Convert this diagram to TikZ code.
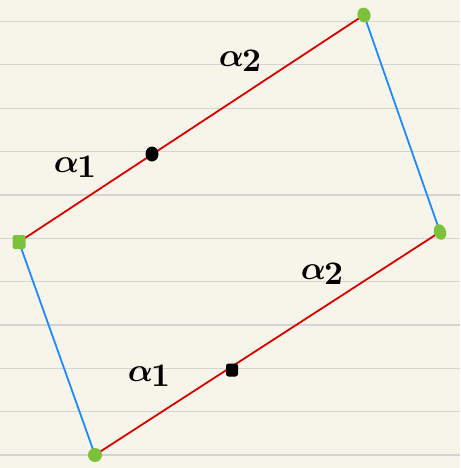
\documentclass[tikz,border=0pt]{standalone}
\usetikzlibrary{shapes.geometric}
\definecolor{paper}{HTML}{F7F5EA}
\definecolor{rule}{HTML}{D4D4D0}
\definecolor{redl}{HTML}{D90000}
\definecolor{bluel}{HTML}{1A8CFF}
\definecolor{greend}{HTML}{7CC13A}
\newcommand{\alab}[1]{\scalebox{3.3}{\boldmath$\alpha\raisebox{-1.8pt}{$\scriptstyle\mathstrut$}\kern-0.5pt\raisebox{-1.6pt}{$\mathrm{#1}$}$}}
\begin{document}
\begin{tikzpicture}[x=1pt,y=-1pt,
  redline/.style={draw=redl,line width=1.8pt},
  blueline/.style={draw=bluel,line width=1.8pt},
  gdot/.style={fill=greend,inner sep=0pt,minimum width=13pt,minimum height=15pt},
  bdot/.style={fill=black,inner sep=0pt},
  lab/.style={inner sep=0pt}]
\fill[paper] (0,0) rectangle (460,468);
\useasboundingbox (0,0) rectangle (460,468);
\foreach \k in {0,...,10}{
  \draw[rule,line width=1.2pt] (0,{21.5+43.35*\k}) -- (460,{21.5+43.35*\k});
}
\coordinate (A) at (19,242);
\coordinate (B) at (364,15);
\coordinate (C) at (440,232);
\coordinate (D) at (95,455);
\path[redline] (A) -- (B);
\path[redline] (D) -- (C);
\path[blueline] (B) -- (C);
\path[blueline] (A) -- (D);
\node[gdot,ellipse,rotate=20] (vB) at (B) {};
\node[gdot,ellipse,rotate=20,minimum width=12pt,minimum height=16pt] (vC) at (C) {};
\node[gdot,rectangle,rounded corners=2.5pt,minimum width=13pt,minimum height=14pt] (vA) at (A) {};
\node[gdot,circle,minimum size=14pt] (vD) at (D) {};
\node[bdot,ellipse,minimum width=13pt,minimum height=15pt] (m1) at (152,154) {};
\node[bdot,rectangle,rounded corners=2.5pt,minimum width=12pt,minimum height=13pt] (m2) at (232,370) {};
\node[lab] (l1) at (75,170) {\alab{1}};
\node[lab] (l2) at (240,64) {\alab{2}};
\node[lab] (l3) at (322,277) {\alab{2}};
\node[lab] (l4) at (149,379) {\alab{1}};
\end{tikzpicture}
\end{document}
